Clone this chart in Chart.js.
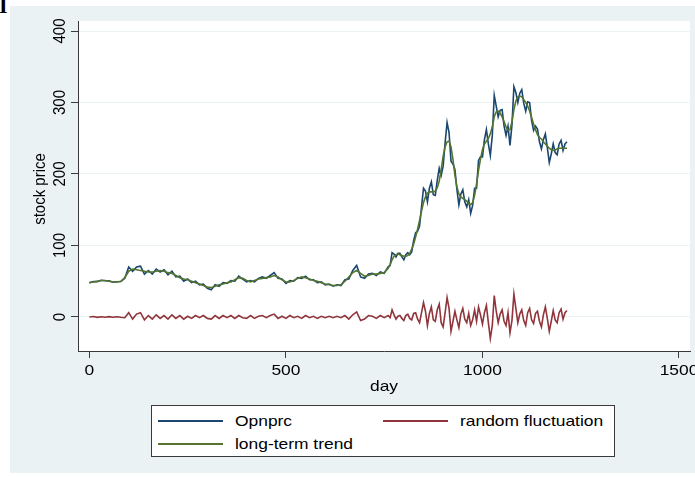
<!DOCTYPE html>
<html>
<head>
<meta charset="utf-8">
<script src="https://cdn.jsdelivr.net/npm/chart.js@4"></script>
<style>
  body { margin: 0; background: #fff; width: 695px; height: 477px; overflow: hidden; position: relative; font-family: "Liberation Sans", Arial, sans-serif; }
  #corner { position: absolute; left: -1px; top: -7px; font: bold 22px "Liberation Serif", serif; color: #000; }
  #region { position: absolute; left: 10px; top: 6px; width: 685px; height: 467px; background: #eaf2f3; }
  #chart { position: absolute; left: 0; top: 0; }
  #legend { position: absolute; left: 141px; top: 399px; width: 464px; height: 52px; background: #fff; border: 1px solid #3a3a3a; box-sizing: border-box; }
  .item { position: absolute; height: 20px; }
  .item i { position: absolute; top: 9px; width: 65px; height: 2px; }
  .item span { position: absolute; left: 77px; top: 0; font-size: 15px; line-height: 20px; color: #000; white-space: nowrap; transform: scaleX(1.16); transform-origin: left center; }
</style>
</head>
<body>
<div id="corner">I</div>
<div id="region">
  <canvas id="chart" width="685" height="467"></canvas>
  <div id="legend">
    <div class="item" style="left:6px;top:5px"><i style="background:#1a476f"></i><span>Opnprc</span></div>
    <div class="item" style="left:231px;top:5px"><i style="background:#90353b"></i><span>random fluctuation</span></div>
    <div class="item" style="left:6px;top:28px"><i style="background:#55752f"></i><span>long-term trend</span></div>
  </div>
</div>
<script>
// day index (finer steps where the series gets volatile)
const days = [0,10,20,30,40,50,60,70,80,90,
  100,110,120,130,140,150,160,170,180,190,
  200,210,220,230,240,250,260,270,280,290,
  300,310,320,330,340,350,360,370,380,390,
  400,410,420,430,440,450,460,470,480,490,
  500,510,520,530,540,550,560,570,580,590,
  600,610,620,630,640,650,660,670,680,690,
  700,710,720,730,740,750,
  760,765,770,775,780,785,790,795,800,805,
  810,815,820,825,830,835,840,845,850,855,
  860,865,870,875,880,885,890,895,900,905,
  910,915,920,925,930,935,940,945,950,955,
  960,965,970,975,980,985,990,995,1000,1005,
  1010,1015,1020,1025,1030,1035,1040,1045,1050,1055,
  1060,1065,1070,1075,1080,1085,1090,1095,1100,1105,
  1110,1115,1120,1125,1130,1135,1140,1145,1150,1155,
  1160,1165,1170,1175,1180,1185,1190,1195,1200,1205,
  1210,1215]

const opnprc = [48,49.6,49.5,51.3,50.6,50.5,48.6,49.3,49.5,54,
  70,64,70,71,60,65,60,67,63,66,
  59,64,56,57,50,53,48,50,45,46,
  40,38,45,43,48,47,51,50,57,53,
  49,51,49,54,56,54,58,62,54,53,
  47,51,50,55,54,57,52,52,48,49,
  45,46,43,45,44,52,53,65,72,56,
  54,60,61,58,63,61,
  70,72,90,88,84,89,89,84,80,87,
  90,87,91,107,118,120,127,154,180,176,
  161,180,189,171,170,191,208,198,211,244,
  272,258,218,214,206,178,157,172,178,161,
  154,164,145,156,180,180,219,224,224,248,
  262,242,226,254,310,295,280,289,290,267,
  254,267,240,268,322,314,300,313,318,299,
  288,301,300,275,261,267,263,245,235,248,
  256,237,216,228,242,230,227,242,247,233,
  242,245]

const fluct = [0,0.6,-0.5,0.3,-0.4,0.5,-0.4,0.3,-0.5,-1,
  6,-3,4,6,-4,2,-3,3,-2,2,
  -3,3,-2,2,-3,1,-2,2,-1,2,
  -2,-3,2,-2,2,-1,2,-2,2,-1,
  -2,2,-2,1,2,-1,2,4,-2,1,
  -2,2,-1,1,-2,2,-1,1,-2,1,
  -1,1,-1,1,-1,2,-3,3,7,-5,
  -3,2,1,-2,2,-1,
  2,-1,10,3,-3,1,2,-2,-5,2,
  4,-2,-4,5,6,-3,-8,6,20,8,
  -12,5,14,-4,-6,10,18,-8,-14,6,
  27,12,-20,-6,8,-4,-15,4,12,-3,
  -8,5,-12,-4,10,-6,14,3,-10,6,
  16,-8,-30,-12,30,8,-8,4,10,-6,
  -12,6,-22,-5,32,12,-8,4,10,-5,
  -12,6,12,-4,-9,5,8,-6,-14,3,
  14,-2,-20,-6,9,-4,-8,6,11,-3,
  6,9]

const trend = [48,49,50,51,51,50,49,49,50,55,
  64,67,66,65,64,63,63,64,65,64,
  62,61,58,55,53,52,50,48,46,44,
  42,41,43,45,46,48,49,52,55,54,
  51,49,51,53,54,55,56,58,56,52,
  49,49,51,54,56,55,53,51,50,48,
  46,45,44,44,45,50,56,62,65,61,
  57,58,60,60,61,62,
  68,73,80,85,87,88,87,86,85,85,
  86,89,95,102,112,123,135,148,160,168,
  173,175,175,175,176,181,190,206,225,238,
  245,246,238,220,198,182,172,168,166,164,
  162,159,157,160,170,186,205,221,234,242,
  246,250,256,266,280,287,288,285,280,273,
  266,261,262,273,290,302,308,309,308,304,
  300,295,288,279,270,262,255,251,249,245,
  242,239,236,234,233,234,235,236,236,236,
  236,236]

const xTicks = [0, 500, 1000, 1500]
const yTicks = [0, 100, 200, 300, 400]

const pts = arr => arr.map((v, i) => ({x: days[i], y: v}))
const FONT = '15px "Liberation Sans", Arial, sans-serif'

function stretchText(ctx, txt, x, y, rot) {
  ctx.save()
  ctx.translate(x, y)
  ctx.scale(1.16, 1)
  ctx.rotate(rot)
  ctx.textAlign = 'center'
  ctx.textBaseline = 'middle'
  ctx.fillText(txt, 0, 0)
  ctx.restore()
}

const stataLook = {
  id: 'stataLook',
  beforeDraw(chart) {
    const a = chart.chartArea
    const ctx = chart.ctx
    ctx.save()
    ctx.fillStyle = '#ffffff'
    ctx.fillRect(a.left, a.top, a.right - a.left, a.bottom - a.top)
    ctx.restore()
  },
  afterDraw(chart) {
    const ctx = chart.ctx
    const xs = chart.scales.x, ys = chart.scales.y
    ctx.save()
    ctx.font = FONT
    ctx.fillStyle = '#000'
    yTicks.forEach(v => stretchText(ctx, String(v), 50, ys.getPixelForValue(v), -Math.PI / 2))
    xTicks.forEach(v => stretchText(ctx, String(v), xs.getPixelForValue(v), 365, 0))
    stretchText(ctx, 'stock price', 30, 183, -Math.PI / 2)
    stretchText(ctx, 'day', (chart.chartArea.left + chart.chartArea.right) / 2, 381, 0)
    ctx.restore()
  }
}

new Chart(document.getElementById('chart'), {
  type: 'line',
  data: {
    datasets: [
      { label: 'Opnprc', data: pts(opnprc), borderColor: '#1a476f', order: 2 },
      { label: 'random fluctuation', data: pts(fluct), borderColor: '#90353b', order: 1 },
      { label: 'long-term trend', data: pts(trend), borderColor: '#55752f', order: 0 }
    ]
  },
  options: {
    responsive: false,
    animation: false,
    layout: { padding: { top: 15, right: 5, left: 0, bottom: 0 } },
    elements: {
      point: { radius: 0 },
      line: { borderWidth: 1.6, tension: 0 }
    },
    plugins: { legend: { display: false }, tooltip: { enabled: false } },
    scales: {
      x: {
        type: 'linear',
        min: -29, max: 1528,
        afterBuildTicks: s => { s.ticks = xTicks.map(v => ({value: v})) },
        afterFit: s => { s.height = 122 },
        ticks: { display: false },
        grid: { drawOnChartArea: false, tickLength: 7, tickColor: '#3a3a3a', tickWidth: 1 },
        border: { color: '#3a3a3a', width: 1 }
      },
      y: {
        min: -47.6, max: 414,
        afterBuildTicks: s => { s.ticks = yTicks.map(v => ({value: v})) },
        afterFit: s => { s.width = 68 },
        ticks: { display: false },
        grid: { color: '#eaf2f3', lineWidth: 1, tickLength: 7, tickColor: '#3a3a3a', tickWidth: 1 },
        border: { color: '#3a3a3a', width: 1 }
      }
    }
  },
  plugins: [stataLook]
})
</script>
</body>
</html>
